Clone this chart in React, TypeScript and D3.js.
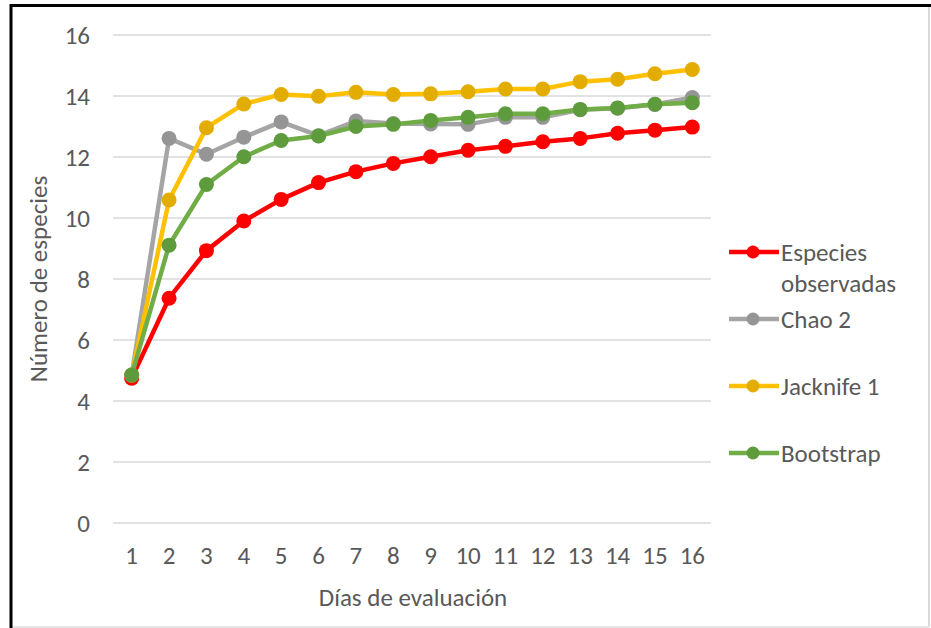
import React from "react";
import * as d3 from "d3";

const days = ["1","2","3","4","5","6","7","8","9","10","11","12","13","14","15","16"];
const observadas = [4.75, 7.37, 8.93, 9.9, 10.61, 11.16, 11.52, 11.79, 12.01, 12.22, 12.35, 12.5, 12.61, 12.78, 12.88, 12.98];
const chao2 = [4.85, 12.61, 12.09, 12.65, 13.15, 12.7, 13.18, 13.1, 13.08, 13.07, 13.3, 13.3, 13.55, 13.6, 13.72, 13.95];
const jacknife1 = [4.85, 10.59, 12.96, 13.74, 14.05, 13.99, 14.12, 14.05, 14.07, 14.14, 14.23, 14.23, 14.47, 14.55, 14.73, 14.87];
const bootstrap = [4.85, 9.11, 11.1, 12.01, 12.54, 12.69, 13.0, 13.07, 13.2, 13.3, 13.42, 13.42, 13.56, 13.61, 13.73, 13.78];
const yTicks = [0, 2, 4, 6, 8, 10, 12, 14, 16];

const series = [
  { name: ["Especies", "observadas"], values: observadas, line: "#FF0000", marker: "#FF0000" },
  { name: ["Chao 2"], values: chao2, line: "#A5A5A5", marker: "#959595" },
  { name: ["Jacknife 1"], values: jacknife1, line: "#FFC000", marker: "#E3AC00" },
  { name: ["Bootstrap"], values: bootstrap, line: "#70AD47", marker: "#5E9B3D" },
];

const legendY = [252, 319, 386, 453];

export default function App() {
  const W = 931, H = 628;
  const left = 113, right = 711, top = 35, bottom = 523;
  const x = d3.scaleBand().domain(days).range([left, right]);
  const y = d3.scaleLinear().domain([0, 16]).range([bottom, top]);
  const font = "Calibri, Carlito, Lato, sans-serif";
  const txt = "#595959";
  const fs = 25;
  const line = d3.line<number>().x((_, i) => (x(days[i]) as number) + x.bandwidth() / 2).y((v) => y(v));

  return (
    <svg width={W} height={H} style={{ position: "absolute", left: 0, top: 0, background: "#fff" }} fontFamily={font}>
      <rect x={0} y={0} width={W} height={H} fill="#fff" />
      <line x1={929} y1={5} x2={929} y2={627} stroke="#d9d9d9" strokeWidth={2} />
      <line x1={11} y1={627} x2={929} y2={627} stroke="#e6e6e6" strokeWidth={2} />
      <line x1={11} y1={4} x2={11} y2={628} stroke="#000" strokeWidth={3} />
      <line x1={10} y1={5.5} x2={931} y2={5.5} stroke="#000" strokeWidth={3} />
      {yTicks.map((t) => (
        <g key={t}>
          <line x1={left} x2={right} y1={y(t)} y2={y(t)} stroke="#d9d9d9" strokeWidth={1.5} />
          <text x={90} y={y(t)} dy="0.35em" textAnchor="end" fontSize={fs} fill={txt}>{t}</text>
        </g>
      ))}
      {days.map((d) => (
        <text key={d} x={(x(d) as number) + x.bandwidth() / 2} y={555} dy="0.35em" textAnchor="middle" fontSize={fs} fill={txt}>{d}</text>
      ))}
      <text x={413} y={597} dy="0.35em" textAnchor="middle" fontSize={fs} fill={txt}>Días de evaluación</text>
      <text transform={`translate(38,${279}) rotate(-90)`} dy="0.35em" textAnchor="middle" fontSize={fs} fill={txt}>Número de especies</text>
      {series.map((s) => (
        <g key={s.name[0]}>
          <path d={line(s.values) as string} fill="none" stroke={s.line} strokeWidth={4.5} strokeLinejoin="round" />
          {s.values.map((v, i) => (
            <circle key={i} cx={(x(days[i]) as number) + x.bandwidth() / 2} cy={y(v)} r={7.5} fill={s.marker} />
          ))}
        </g>
      ))}
      {series.map((s, k) => (
        <g key={"lg" + k}>
          <line x1={729} x2={779} y1={legendY[k]} y2={legendY[k]} stroke={s.line} strokeWidth={4.5} />
          <circle cx={753} cy={legendY[k]} r={6.5} fill={s.marker} />
          {s.name.map((n, j) => (
            <text key={j} x={781} y={legendY[k] + j * 31} dy="0.35em" fontSize={fs} fill={txt}>{n}</text>
          ))}
        </g>
      ))}
    </svg>
  );
}
